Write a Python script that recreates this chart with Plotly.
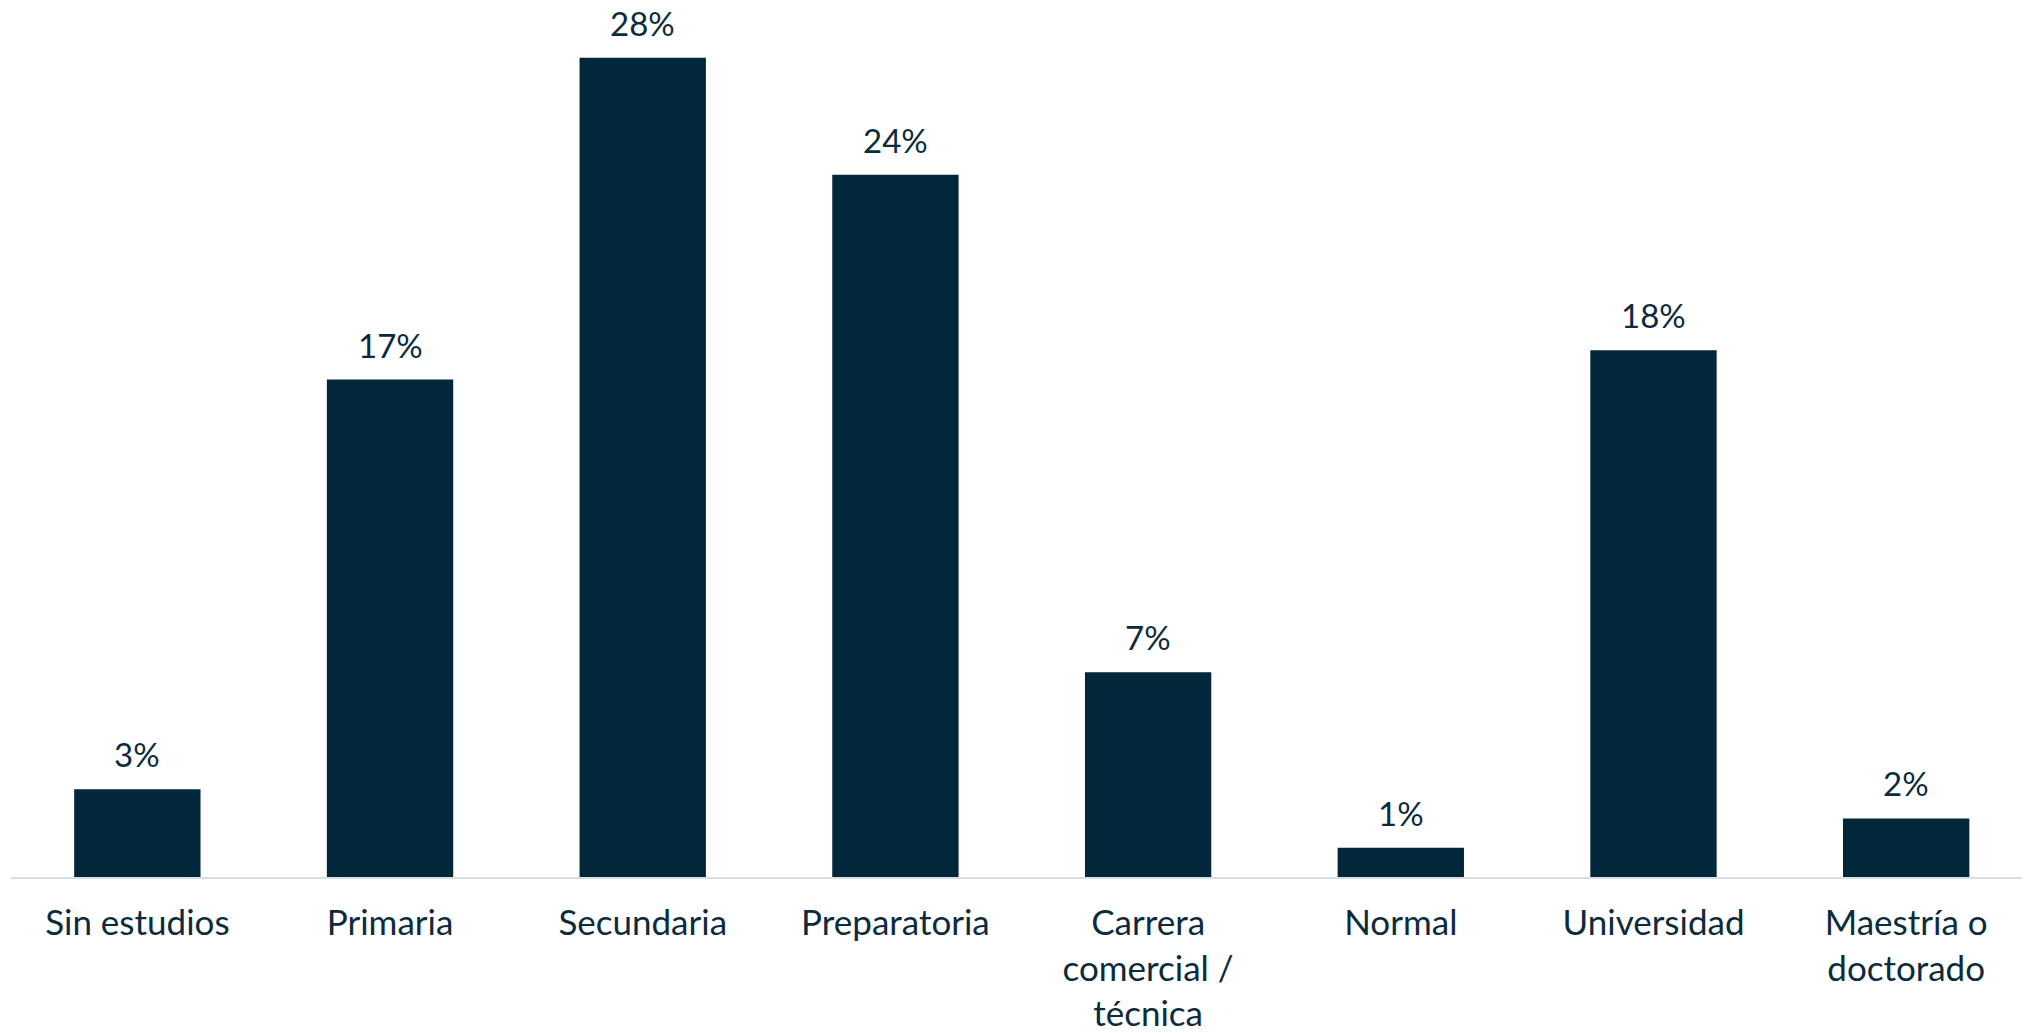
import plotly.graph_objects as go

categories = ["Sin estudios", "Primaria", "Secundaria", "Preparatoria",
              "Carrera<br>comercial /<br>técnica", "Normal", "Universidad",
              "Maestría o<br>doctorado"]
values = [0.03, 0.17, 0.28, 0.24, 0.07, 0.01, 0.18, 0.02]
labels = [f"{round(v*100)}%" for v in values]

BAR = "#02273A"
TXT = "#0D2B3E"
FONT = "Lato"

fig = go.Figure()
fig.add_trace(go.Bar(x=categories, y=values, marker_color=BAR,
                     marker_line_width=0, showlegend=False))

for c, v, t in zip(categories, values, labels):
    fig.add_annotation(x=c, y=v, text=t, showarrow=False, yanchor="middle",
                       yshift=35, borderpad=0,
                       font=dict(family=FONT, size=33, color=TXT))

fig.update_layout(
    width=2022, height=1025,
    margin=dict(l=3, r=0, t=0, b=156, autoexpand=False),
    paper_bgcolor="white", plot_bgcolor="white",
    bargap=0.5,
    font=dict(family=FONT, color=TXT),
)
fig.update_xaxes(showline=True, linecolor="#D9DEE3", linewidth=2, automargin=False,
                 showgrid=False, ticks="", tickfont=dict(family=FONT, size=35, color=TXT),
                 tickangle=0, ticklabelstandoff=14, range=[-0.5, 7.49])
fig.update_yaxes(range=[0, 0.297], visible=False, showgrid=False, zeroline=False,
                 automargin=False)

fig.write_html("out.html")
